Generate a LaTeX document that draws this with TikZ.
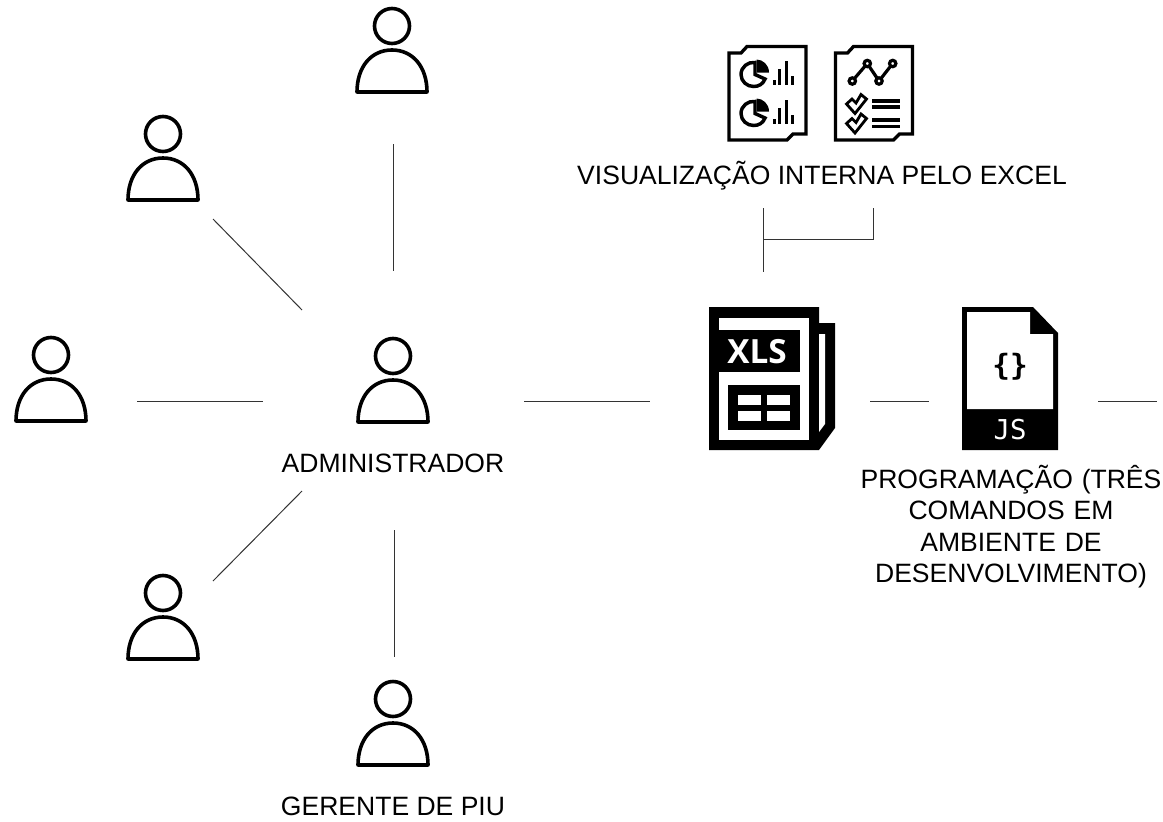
\documentclass[tikz,border=0pt]{standalone}
\usepackage{fontspec}
\setmainfont{Liberation Sans}
\newfontfamily\iconfont{Open Sans}
\newfontfamily\codefont{DejaVu Sans Mono}
\tikzset{
  link/.style={draw=black!80,line width=0.75pt},
  lbl/.style={font=\fontsize{19.9pt}{23.5pt}\selectfont,align=center,inner sep=0pt,text=black},
  icon/.style={draw=black,line width=2.5pt,line join=miter},
  thin icon/.style={draw=black,line width=2.1pt,line join=miter},
  person/.pic={
    \draw[draw=black,line width=2.7pt] (0,0) circle[radius=17.5];
    \draw[draw=black,line width=2.7pt,line join=round] (-35,66) .. controls (-35,41) and (-21,24) .. (0,24) .. controls (21,24) and (35,41) .. (35,66) -- cycle;
  },
  reportpage/.pic={
    \draw[icon] (0,0) -- (12,0) -- (18,-6.5) -- (77,-6.5) -- (77,81) -- (64,81) -- (58,87) -- (0,87) -- cycle;
  },
  piechart/.pic={
    \draw[draw=black,line width=2.6pt] (2,-11.5) .. controls (-5,-12.5) and (-12,-7) .. (-12,0.5) .. controls (-12,7.5) and (-6,12.5) .. (0.5,12.5) .. controls (6,12.5) and (10,10) .. (12,5) -- (2,0.5) -- cycle;
    \fill[black] (3.5,-14.5) .. controls (10,-14.5) and (16,-9) .. (16,-1.5) -- (3.5,-1.5) -- cycle;
    \fill[black] (19.5,5.5) rectangle (22.5,11);
    \fill[black] (25,-5) rectangle (28,11);
    \fill[black] (31.5,-13) rectangle (34.5,11);
    \fill[black] (37.5,2) rectangle (40.5,11);
  },
  checkmark/.pic={
    \draw[thin icon] (-10.5,0) -- (-5,-5) -- (-1,-1) -- (4,-9.5) -- (9.5,-5) -- (-2,9.5) -- cycle;
  },
}
\begin{document}
\begin{tikzpicture}[x=0.75pt,y=-0.75pt]
\useasboundingbox (0,0) rectangle (1163,821);

% people
\coordinate (pTop) at (392,26);
\coordinate (pUpLeft) at (163,134);
\coordinate (pLeft) at (51,355);
\coordinate (pAdmin) at (393,356);
\coordinate (pLowLeft) at (163,593);
\coordinate (pBottom) at (393,699);
\foreach \p in {pTop,pUpLeft,pLeft,pAdmin,pLowLeft,pBottom} \pic at (\p) {person};

% labels
\node[lbl] (adminLabel) at (393,463) {ADMINISTRADOR};
\node[lbl] (piuLabel) at (393,806) {GERENTE DE PIU};
\node[lbl] (excelLabel) at (822,176) {VISUALIZAÇÃO INTERNA PELO EXCEL};
\node[lbl,text width=232pt,anchor=north] (progLabel) at (1011,465) {PROGRAMAÇÃO (TRÊS\\COMANDOS EM\\AMBIENTE DE\\DESENVOLVIMENTO)};

% report icons
\pic at (729,53) {reportpage};
\pic at (835.5,53) {reportpage};
\pic (pieA) at (753,74) {piechart};
\pic (pieB) at (753,113) {piechart};
\coordinate (c1) at (852.3,81);
\coordinate (c2) at (867.3,63.5);
\coordinate (c3) at (879,81);
\coordinate (c4) at (892.7,63.5);
\draw[draw=black,line width=2.4pt] (c1) -- (c2) -- (c3) -- (c4);
\foreach \c in {c1,c2,c3,c4} \draw[draw=black,line width=2.4pt,fill=white] (\c) circle[radius=3.2];
\pic at (857,104) {checkmark};
\pic at (857,123.5) {checkmark};
\foreach \yy in {101,107,120,126.5} \draw[draw=black,line width=2.3pt] (872,\yy) -- (900,\yy);

% XLS icon
\fill[black] (709,307) -- (819,307) -- (819,323) -- (835,323) -- (835,428) -- (819,450) -- (709,450) -- cycle;
\fill[white] (719,318) rectangle (809,440);
\fill[white] (819,334) -- (825,334) -- (825,424) -- (819,432) -- cycle;
\fill[black] (709,330) rectangle (800,372);
\fill[black] (728,385) rectangle (800,430);
\fill[white] (738,395) rectangle (761,405);
\fill[white] (767,395) rectangle (790,405);
\fill[white] (738,411) rectangle (761,421);
\fill[white] (767,411) rectangle (790,421);
\node[inner sep=0pt,text=white,font=\iconfont\bfseries\fontsize{25pt}{25pt}\selectfont] (xlsText) at (757,352) {XLS};

% JS icon
\fill[black] (962,307) -- (1033,307) -- (1058,333) -- (1058,450) -- (962,450) -- cycle;
\fill[white] (967,312) -- (1030,312) -- (1030,334) -- (1053,334) -- (1053,409) -- (967,409) -- cycle;
\node[inner sep=0pt,text=black,font=\codefont\bfseries\fontsize{22pt}{22pt}\selectfont] (braces) at (1010,367) {\{\}};
\node[inner sep=0pt,text=white,font=\codefont\fontsize{20.5pt}{20.5pt}\selectfont] (jsText) at (1010,430) {JS};

% connector ends
\coordinate (a1) at (393,144); \coordinate (a2) at (393,271);
\coordinate (b1) at (213,219); \coordinate (b2) at (302,310);
\coordinate (d1) at (137,401); \coordinate (d2) at (263,401);
\coordinate (e1) at (524,401); \coordinate (e2) at (650,401);
\coordinate (f1) at (302,491); \coordinate (f2) at (213,581);
\coordinate (g1) at (394,530); \coordinate (g2) at (394,657);
\coordinate (h1) at (870,401); \coordinate (h2) at (929,401);
\coordinate (i1) at (1098,401); \coordinate (i2) at (1157,401);
\coordinate (j1) at (763,208); \coordinate (j2) at (763,272);
\coordinate (k1) at (873,208); \coordinate (k2) at (763,239);

\draw[link] (a1) -- (a2);
\draw[link] (b1) -- (b2);
\draw[link] (d1) -- (d2);
\draw[link] (e1) -- (e2);
\draw[link] (f1) -- (f2);
\draw[link] (g1) -- (g2);
\draw[link] (h1) -- (h2);
\draw[link] (i1) -- (i2);
\draw[link] (j1) -- (j2);
\draw[link] (k1) |- (k2);
\end{tikzpicture}
\end{document}
